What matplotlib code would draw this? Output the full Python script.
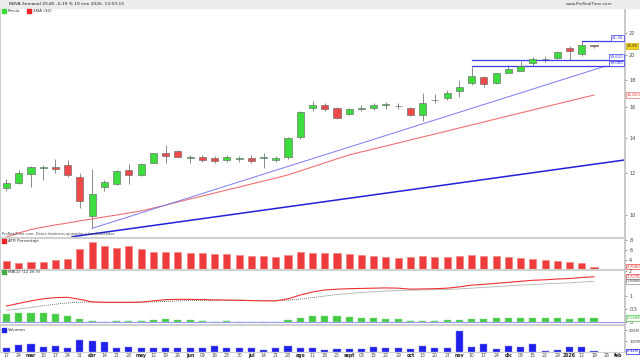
import numpy as np
import matplotlib
matplotlib.use("Agg")
import matplotlib.pyplot as plt
from matplotlib.patches import Rectangle

plt.rcParams['font.family'] = ['DejaVu Sans']

# weekly slots, Feb 17 2025 .. Feb 2 2026
week_labels = ["17", "24", "mar", "10", "17", "24", "31", "abr", "14", "21", "28",
               "may", "12", "19", "26", "jun", "09", "16", "23", "30", "jul", "14",
               "21", "28", "ago", "11", "18", "25", "sept", "08", "15", "22", "29",
               "oct", "13", "20", "27", "nov", "10", "17", "24", "dic", "08", "15",
               "22", "29", "2026", "12", "19", "26", "feb"]
bold_labels = ["mar", "abr", "may", "jun", "jul", "ago", "sept", "oct", "nov",
               "dic", "2026", "feb"]

opens = [11.25, 11.50, 11.97, 12.27, 12.34, 12.43, 11.80, 9.98, 11.30, 11.46,
         12.18, 11.90, 12.57, 13.09, 13.24, 12.84, 12.88, 12.83, 12.72, 12.77,
         12.83, 12.80, 12.70, 12.88, 14.05, 15.95, 16.10, 15.93, 15.55, 15.85,
         15.95, 16.10, 16.05, 15.93, 15.43, 16.49, 16.65, 17.16, 17.72, 18.24,
         17.72, 18.51, 18.72, 19.38, 19.67, 19.75, 20.62, 20.09, 20.90]
highs = [11.71, 12.18, 12.41, 12.43, 12.75, 12.72, 12.04, 12.23, 11.66, 12.18,
         12.50, 12.54, 13.12, 13.57, 13.26, 13.00, 13.00, 12.95, 13.00, 12.95,
         13.00, 13.10, 12.95, 14.05, 15.75, 16.45, 16.30, 16.00, 15.95, 16.10,
         16.30, 16.35, 16.25, 16.02, 16.97, 16.90, 17.21, 17.98, 19.04, 18.32,
         18.55, 19.18, 19.54, 19.83, 19.95, 20.41, 20.83, 21.28, 20.92]
lows = [11.13, 11.46, 11.33, 11.66, 12.04, 11.80, 10.32, 9.46, 11.13, 11.41,
        11.46, 11.86, 12.54, 12.57, 12.87, 12.57, 12.60, 12.55, 12.60, 12.60,
        12.55, 12.30, 12.60, 12.75, 13.95, 15.70, 15.70, 15.20, 15.45, 15.70,
        15.80, 15.85, 15.85, 15.38, 15.07, 16.29, 16.49, 16.73, 17.60, 17.42,
        17.67, 18.50, 18.72, 19.11, 19.45, 19.66, 19.61, 19.97, 20.62]
closes = [11.53, 12.04, 12.32, 12.35, 12.25, 11.92, 10.65, 10.96, 11.56, 12.14,
          11.90, 12.50, 13.09, 12.94, 12.87, 12.90, 12.72, 12.66, 12.88, 12.83,
          12.66, 12.90, 12.85, 13.99, 15.65, 16.15, 15.85, 15.26, 15.85, 15.95,
          16.15, 16.20, 16.06, 15.43, 16.25, 16.50, 17.02, 17.42, 18.32, 17.65,
          18.51, 18.83, 19.13, 19.72, 19.68, 20.32, 20.41, 20.92, 20.85]
sma30 = [9.11, 9.27, 9.41, 9.51, 9.60, 9.68, 9.77, 9.85, 9.94, 10.02, 10.11,
         10.20, 10.33, 10.46, 10.60, 10.74, 10.88, 11.02, 11.17, 11.31, 11.46,
         11.61, 11.76, 11.92, 12.13, 12.34, 12.56, 12.78, 13.00, 13.17, 13.34,
         13.51, 13.69, 13.87, 14.05, 14.23, 14.42, 14.61, 14.80, 14.99, 15.19,
         15.39, 15.59, 15.79, 16.00, 16.21, 16.42, 16.63, 16.85]

# trend lines: (week index, price) anchors
trend_thick = [(5.35, 9.12), (50.53, 12.72)]
trend_thin = [(7, 9.46), (48.9, 19.085)]
levels = [(47, 21.30), (38, 19.610), (38, 19.085)]
last_price = 20.85

atr_pct = [3.8, 3.46, 3.6, 3.66, 3.94, 4.2, 6.2, 7.54, 6.86, 6.34, 6.74, 6.14,
           5.54, 5.66, 5.6, 5.4, 5.4, 5.26, 5.2, 5.0, 4.9, 4.8, 4.7, 5.0, 5.6,
           5.5, 5.4, 5.4, 5.2, 5.0, 4.8, 4.6, 4.5, 4.6, 4.8, 4.7, 4.6, 4.8, 5.0,
           4.9, 4.8, 4.6, 4.4, 4.2, 4.0, 3.8, 3.6, 3.5, 2.7]

macd_line = [0.62, 0.72, 0.82, 0.90, 0.95, 0.96, 0.88, 0.78, 0.76, 0.76, 0.76,
             0.77, 0.82, 0.87, 0.88, 0.88, 0.87, 0.86, 0.85, 0.84, 0.83, 0.82,
             0.82, 0.90, 1.05, 1.17, 1.25, 1.28, 1.30, 1.31, 1.32, 1.33, 1.32,
             1.28, 1.29, 1.30, 1.32, 1.37, 1.44, 1.47, 1.51, 1.55, 1.59, 1.63,
             1.65, 1.68, 1.70, 1.74, 1.77]
macd_signal = [0.45, 0.50, 0.56, 0.63, 0.69, 0.74, 0.77, 0.77, 0.77, 0.77, 0.77,
               0.77, 0.78, 0.80, 0.82, 0.83, 0.84, 0.84, 0.85, 0.85, 0.84, 0.84,
               0.84, 0.85, 0.89, 0.95, 1.01, 1.07, 1.11, 1.15, 1.18, 1.21, 1.23,
               1.24, 1.25, 1.26, 1.27, 1.29, 1.32, 1.35, 1.38, 1.41, 1.44, 1.46,
               1.49, 1.51, 1.53, 1.56, 1.59]
macd_hist = [0.30, 0.33, 0.33, 0.33, 0.30, 0.24, 0.11, 0.04, -0.03, 0.02, 0.03,
             0.02, 0.08, 0.11, 0.08, 0.06, 0.02, -0.02, 0.01, -0.01, -0.02, 0.0,
             -0.02, 0.05, 0.16, 0.22, 0.24, 0.21, 0.19, 0.16, 0.14, 0.12, 0.09,
             0.04, 0.04, 0.04, 0.05, 0.08, 0.12, 0.12, 0.13, 0.13, 0.14, 0.15,
             0.13, 0.13, 0.12, 0.13, 0.14]

volume_m = [41, 62, 71, 44, 58, 34, 111, 99, 95, 34, 44, 40, 40, 34, 40, 34, 41,
            53, 34, 34, 34, 22, 34, 53, 41, 34, 19, 31, 25, 31, 46, 34, 34, 25,
            53, 34, 41, 195, 46, 71, 28, 59, 50, 78, 13, 19, 46, 44, 6]

# ---------------------------------------------------------------------------
W, H = 640, 360
RIGHT = 625
fig = plt.figure(figsize=(W / 100, H / 100), dpi=100)
fig.patch.set_facecolor('white')


def panel(y0, y1):
    return fig.add_axes([0, 1 - y1 / H, RIGHT / W, (y1 - y0) / H])


def style(ax, lsize=3.6):
    ax.set_xlim(-0.53, 50.53)
    for s in ['top', 'bottom']:
        ax.spines[s].set_color('#d0d0d0')
        ax.spines[s].set_linewidth(0.8)
    ax.spines['left'].set_color('#cfcfcf')
    ax.spines['right'].set_color('#c0c0c0')
    ax.spines['right'].set_linewidth(1.2)
    ax.yaxis.tick_right()
    ax.tick_params(axis='y', labelsize=lsize, length=1.5, width=0.4, pad=1.5,
                   colors='#444444')
    ax.tick_params(axis='x', length=0, labelbottom=False)
    ax.set_xticks([])


def right_box(ax, y, text, fc, ec, tc, side='out', va='center'):
    if side == 'out':
        xt, ha = (1.0, 0), 'left'
    else:
        xt, ha = (-1.2, 0.6), 'right'
    ax.annotate(text, xy=(1.0, y), xycoords=('axes fraction', 'data'),
                xytext=xt, textcoords='offset points', ha=ha, va=va,
                fontsize=2.9, color=tc, annotation_clip=False,
                bbox=dict(boxstyle='square,pad=0.2', fc=fc, ec=ec, lw=0.5))


x = np.arange(len(closes))
o = np.array(opens)
c = np.array(closes)

# ---- main price panel ----
ax = panel(0, 237)
style(ax)
ax.set_yscale('log')
ax.set_ylim(9.111, 25.42)
ax.yaxis.set_major_locator(plt.FixedLocator([10, 12, 14, 16, 18, 20, 22]))
ax.yaxis.set_minor_locator(plt.NullLocator())
ax.yaxis.set_major_formatter(plt.FuncFormatter(lambda v, p: f"{v:g}"))

ax.vlines(x, lows, highs, color='#8a8a8a', lw=0.7, zorder=2)
body_col = np.where(c >= o, '#3ddc3d', '#ee4a4a')
body_h = np.maximum(np.abs(c - o), 0.015)
ax.bar(x, body_h, bottom=np.minimum(o, c), width=0.58, color=body_col,
       edgecolor='#6a6a6a', linewidth=0.45, zorder=3)

ax.plot(x, sma30, color='#f07070', lw=0.8, zorder=2)
(tx0, ty0), (tx1, ty1) = trend_thick
ax.plot([tx0, tx1], [ty0, ty1], color='#2020d8', lw=1.1, zorder=2)
(tx0, ty0), (tx1, ty1) = trend_thin
ax.plot([tx0, tx1], [ty0, ty1], color='#7a7af0', lw=0.7, zorder=2)
for xs, lv in levels:
    ax.plot([xs, 50.53], [lv, lv], color='#3a3ae6', lw=0.9, zorder=2)

right_box(ax, 21.30, "21.30", 'white', '#3a3ae6', '#3a3ae6', side='in', va='bottom')
right_box(ax, 19.610, "19.610", 'white', '#3a3ae6', '#3a3ae6', side='in', va='bottom')
right_box(ax, 19.085, "19.085", 'white', '#3a3ae6', '#3a3ae6', side='in', va='bottom')
right_box(ax, last_price, f"{last_price:.2f}", '#f2d21a', '#c8a800', '#333333')
right_box(ax, sma30[-1], "16.853", 'white', '#f07070', '#e04040')

fig.text(2 / W, 1 - 234.5 / H,
         "ProRealTime.com: Datos históricos ajustados a los dividendos",
         fontsize=2.6, color='#444444', va='center')

# ---- ATR panel ----
ax2 = panel(238, 269)
style(ax2)
ax2.set_ylim(2.2, 8.4)
ax2.set_yticks([4, 6, 8])
ax2.bar(x, np.array(atr_pct) - 2.2, bottom=2.2, width=0.58, color='#ee3b3b',
        edgecolor='#f08080', linewidth=0.4)
right_box(ax2, atr_pct[-1], f"{atr_pct[-1]:.4f}", 'white', '#ee3b3b', '#e03030')

# ---- MACD panel ----
ax3 = panel(270, 324)
style(ax3)
ax3.set_ylim(-0.09, 2.035)
ax3.set_yticks([0, 0.5, 1, 2])
ax3.yaxis.set_major_formatter(plt.FuncFormatter(lambda v, p: f"{v:g}"))
h = np.array(macd_hist)
ax3.bar(x, h, width=0.58, color=np.where(h >= 0, '#44cc44', '#ee5555'),
        edgecolor='#88dd88', linewidth=0.3)
ax3.axhline(0, color='#9a9af5', lw=0.8)
ax3.plot(x, macd_signal, color='#666666', lw=0.6, ls=(0, (1.2, 1.2)))
ax3.plot(x, macd_line, color='#ee3030', lw=0.8)
right_box(ax3, macd_line[-1], "1.7276", 'white', '#ee3030', '#e03030')
right_box(ax3, macd_signal[-1], "1.5868", 'white', '#888888', '#444444')
right_box(ax3, macd_hist[-1], "0.1408", 'white', '#44cc44', '#33aa33')

# ---- volume panel ----
ax4 = panel(325, 352)
style(ax4, lsize=2.9)
ax4.set_ylim(0, 250)
ax4.set_yticks([100, 200])
ax4.set_yticklabels(["100M", "200M"])
ax4.bar(x, volume_m, width=0.58, color='#2020e8', edgecolor='#8080f0',
        linewidth=0.3)
right_box(ax4, volume_m[-1], "6.94M", 'white', '#2020e8', '#2020e8')

# x labels
slots = np.arange(len(week_labels))
for i, lab in zip(slots, week_labels):
    ax4.text(i, -8, lab, ha='center', va='top', fontsize=3.3,
             fontweight='bold' if lab in bold_labels else 'normal',
             color='#222222' if lab in bold_labels else '#444444',
             clip_on=False)

# ---- header ----
fig.patches.append(Rectangle((0, 1 - 8 / H), 1, 8 / H, transform=fig.transFigure,
                             color='#ececec', zorder=0))
fig.text(9 / W, 1 - 4 / H, "BBVA Semanal 20,85 -0,19 % 19 ene 2026, 13:03:15",
         fontsize=3.2, va='center', color='#222222')
fig.text(612 / W, 1 - 4 / H, "www.ProRealTime.com", fontsize=3.0, va='center',
         ha='right', color='#333333')


def legend_row(y, items):
    for xp, col, label in items:
        fig.patches.append(Rectangle((xp / W, 1 - (y + 2.2) / H), 4 / W, 4 / H,
                                     transform=fig.transFigure, color=col))
        fig.text((xp + 6) / W, 1 - y / H, label, fontsize=3.0, va='center',
                 color='#333333')


legend_row(11, [(2, '#3ddc3d', 'Precio'), (27, '#ee2222', 'SMA (30)')])
legend_row(241, [(2, '#ee2222', 'ATR Porcentaje')])
legend_row(272, [(2, '#44aa44', 'MACD (12 26 9)')])
legend_row(330, [(2, '#2020e8', 'Volumen')])

fig.savefig('out.png', dpi=100)
